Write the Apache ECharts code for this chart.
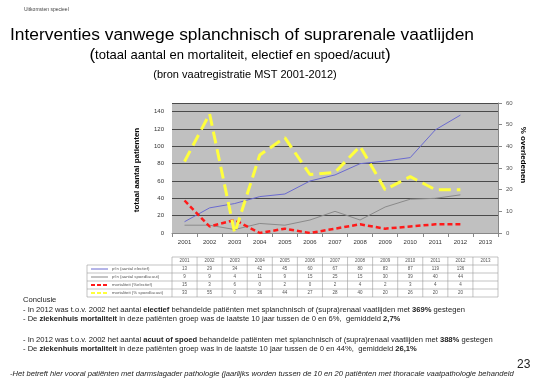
<!DOCTYPE html>
<html><head><meta charset="utf-8">
<script src="https://cdn.jsdelivr.net/npm/echarts/dist/echarts.min.js"></script>
<style>html,body{margin:0;padding:0;background:#fff}#c{width:560px;height:387px}</style>
</head><body><div id="c"></div><script>
// ---- data ----
const years = ['2001','2002','2003','2004','2005','2006','2007','2008','2009','2010','2011','2012','2013'];
const electief = [13, 29, 34, 42, 45, 60, 67, 80, 83, 87, 119, 136];
const spoed = [9, 9, 4, 11, 9, 15, 25, 15, 30, 39, 40, 44];
const mortElectief = [15, 3, 6, 0, 2, 0, 2, 4, 2, 3, 4, 4];
const mortSpoed = [33, 55, 0, 36, 44, 27, 28, 40, 20, 26, 20, 20];
const seriesNames = ["pt'n (aantal electief)", "pt'n (aantal spoed/acuut)", "mortaliteit (%electief)", "mortaliteit (% spoed/acuut)"];
const leftTicks = {min: 0, max: 150, interval: 20};
const rightTicks = {min: 0, max: 60, interval: 10};

const FF = '"Liberation Sans", Arial, sans-serif';
const chart = echarts.init(document.getElementById('c'), null, {renderer: 'canvas'});

const colors = ['#6a6ad0', '#8a8a8a', '#ff1a1a', '#ffff3c'];
const lineStyles = [
  {color: colors[0], width: 1, type: 'solid'},
  {color: colors[1], width: 1, type: 'solid'},
  {color: colors[2], width: 2.5, type: [5, 3]},
  {color: colors[3], width: 3, type: [12, 6]}
];

const option = {
  animation: false,
  backgroundColor: '#fff',
  grid: {left: 172, right: 62, top: 103, bottom: 154, show: true, backgroundColor: '#c0c0c0', borderWidth: 0},
  xAxis: {
    type: 'category', data: years, boundaryGap: true,
    axisLine: {show: true, lineStyle: {color: '#888', width: 1}},
    axisTick: {show: true, length: 4, lineStyle: {color: '#888'}},
    axisLabel: {fontSize: 6, color: '#333', margin: 6, fontFamily: FF}
  },
  yAxis: [
    {type: 'value', min: leftTicks.min, max: leftTicks.max, interval: leftTicks.interval, position: 'left',
     axisLine: {show: false}, axisTick: {show: false},
     axisLabel: {fontSize: 6, color: '#333', margin: 8, fontFamily: FF, showMaxLabel: false,
       formatter: v => (v > 140 ? '' : v)},
     splitLine: {show: true, lineStyle: {color: '#4a4a4a', width: 1}}},
    {type: 'value', min: rightTicks.min, max: rightTicks.max, interval: rightTicks.interval, position: 'right',
     axisLine: {show: true, lineStyle: {color: '#888'}}, axisTick: {show: true, length: 4, lineStyle: {color: '#888'}},
     axisLabel: {fontSize: 6, color: '#555', margin: 8, fontFamily: FF},
     splitLine: {show: false}}
  ],
  series: [
    {name: seriesNames[0], type: 'line', yAxisIndex: 0, data: electief, symbol: 'none', lineStyle: lineStyles[0], z: 3},
    {name: seriesNames[1], type: 'line', yAxisIndex: 0, data: spoed, symbol: 'none', lineStyle: lineStyles[1], z: 3},
    {name: seriesNames[2], type: 'line', yAxisIndex: 1, data: mortElectief, symbol: 'none', lineStyle: lineStyles[2], z: 4},
    {name: seriesNames[3], type: 'line', yAxisIndex: 1, data: mortSpoed, symbol: 'none', lineStyle: lineStyles[3], z: 5}
  ]
};
chart.setOption(option);

function buildGraphics() {
  const g = [];
  const T = (x, y, text, st, rot) => g.push({type: 'text', x, y, rotation: rot || 0, silent: true, z: 10,
    style: Object.assign({text, fill: '#000', fontSize: 12, fontFamily: FF, align: 'left', verticalAlign: 'middle'}, st || {})});
  const L = (x1, y1, x2, y2, stroke, lw, dash) => g.push({type: 'line', silent: true, z: 10,
    shape: {x1, y1, x2, y2}, style: {stroke, lineWidth: lw || 0.6, lineDash: dash || null}});

  // headings
  T(24, 10, 'Uitkomsten specieel', {fontSize: 5, fill: '#444'});
  T(10, 35, 'Interventies vanwege splanchnisch of suprarenale vaatlijden', {fontSize: 17.4});
  T(240, 55, '{p|(}totaal aantal en mortaliteit, electief en spoed/acuut{p|)}',
    {fontSize: 13, align: 'center', rich: {p: {fontSize: 17, fontFamily: FF}}});
  T(245, 75, '(bron vaatregistratie MST 2001-2012)', {fontSize: 11, align: 'center'});

  // axis names
  T(137, 170, 'totaal aantal patienten', {fontSize: 8, fontWeight: 'bold', align: 'center'}, Math.PI / 2);
  T(523, 155, '% overledenen', {fontSize: 8, fontWeight: 'bold', align: 'center'}, -Math.PI / 2);

  // data table
  const cx = years.map((y, i) => chart.convertToPixel({xAxisIndex: 0}, i));
  const bw = cx.length > 1 ? (cx[1] - cx[0]) : 25;
  const colStart = cx[0] - bw / 2, colEnd = cx[cx.length - 1] + bw / 2;
  const tLeft = 87, hTop = 257, rTop = 265, rh = 8, nRows = 4;
  const bc = '#9a9a9a';
  L(colStart, hTop, colEnd, hTop, bc);
  for (let r = 0; r <= nRows; r++) L(tLeft, rTop + r * rh, colEnd, rTop + r * rh, bc);
  L(tLeft, rTop, tLeft, rTop + nRows * rh, bc);
  for (let i = 0; i <= cx.length; i++) {
    const x = colStart + i * bw;
    L(x, hTop, x, rTop + nRows * rh, bc);
  }
  years.forEach((y, i) => T(cx[i], (hTop + rTop) / 2, y, {fontSize: 4.5, fill: '#555', align: 'center'}));
  const rowsData = [electief, spoed, mortElectief, mortSpoed];
  rowsData.forEach((arr, r) => {
    const yc = rTop + r * rh + rh / 2;
    const ls = lineStyles[r];
    L(91, yc, 108, yc, ls.color, Math.min(ls.width, 2), Array.isArray(ls.type) ? [4, 2] : null);
    T(112, yc, seriesNames[r], {fontSize: 4.3, fill: '#555'});
    arr.forEach((v, i) => T(cx[i], yc, String(v), {fontSize: 4.5, fill: '#555', align: 'center'}));
  });

  // conclusion text
  const rich = {b: {fontWeight: 'bold', fontSize: 7.6, fontFamily: FF, fill: '#222'}};
  const base = {fontSize: 7.6, fill: '#222', rich};
  T(23, 300, 'Conclusie', {fontSize: 7.6, fill: '#222'});
  T(23, 310, '- In 2012 was t.o.v. 2002 het aantal {b|electief} behandelde patiënten met splanchnisch of (supra)renaal vaatlijden met {b|369%} gestegen', base);
  T(23, 319, '- De {b|ziekenhuis mortaliteit} in deze patiënten groep was de laatste 10 jaar tussen de 0 en 6%,  gemiddeld {b|2,7%}', base);
  T(23, 340, '- In 2012 was t.o.v. 2002 het aantal {b|acuut of spoed} behandelde patiënten met splanchnisch of (supra)renaal vaatlijden met {b|388%} gestegen', base);
  T(23, 349, '- De {b|ziekenhuis mortaliteit} in deze patiënten groep was in de laatste 10 jaar tussen de 0 en 44%,  gemiddeld {b|26,1%}', base);
  T(517, 365, '23', {fontSize: 12, fill: '#222'});
  T(10, 374, '-Het betreft hier vooral patiënten met darmslagader pathologie (jaarlijks worden tussen de 10 en 20 patiënten met thoracale vaatpathologie behandeld',
    {fontSize: 7.6, fontStyle: 'italic', fill: '#222'});
  return g;
}
chart.setOption({graphic: buildGraphics()});
</script></body></html>
